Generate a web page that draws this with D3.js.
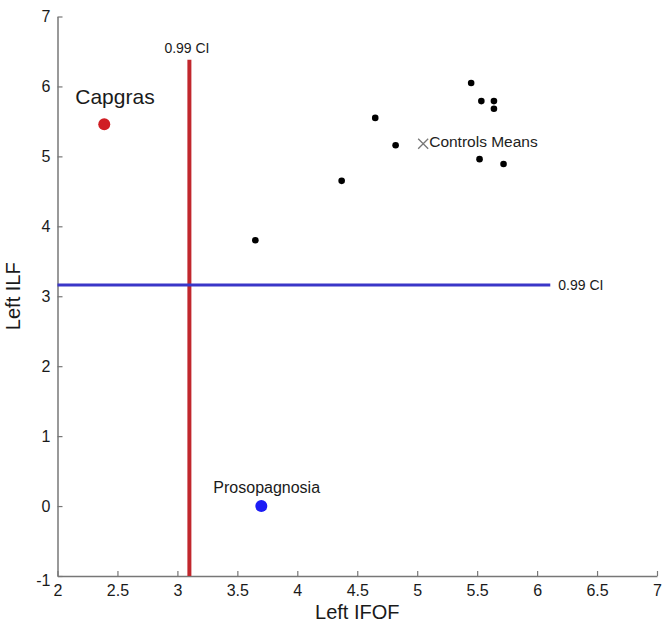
<!DOCTYPE html>
<html>
<head>
<meta charset="utf-8">
<script src="https://cdn.jsdelivr.net/npm/d3@7"></script>
<style>
  body { margin: 0; background: #fff; }
  svg text { font-family: "Liberation Sans", Arial, sans-serif; }
</style>
</head>
<body>
<div id="chart"></div>
<script>
// Data
const controlsX = [5.45, 5.535, 5.64, 5.64, 4.65, 4.82, 5.52, 5.72, 4.37, 3.65];
const controlsY = [6.05, 5.79, 5.79, 5.68, 5.55, 5.16, 4.96, 4.89, 4.65, 3.80];
const controlsMean = [5.05, 5.18];
const capgras = [2.39, 5.46];
const prosopagnosia = [3.70, 0.0];
const ciIFOF = 3.10;      // vertical 0.99 CI
const ciIFOFTop = 6.38;
const ciILF = 3.16;       // horizontal 0.99 CI
const ciILFRight = 6.11;
const xTicks = [2, 2.5, 3, 3.5, 4, 4.5, 5, 5.5, 6, 6.5, 7];
const yTicks = [-1, 0, 1, 2, 3, 4, 5, 6, 7];

// Set up chart dimensions
const W = 662, H = 624;
const margin = { top: 16.5, right: 5, bottom: 48, left: 57.5 };
const width = W - margin.left - margin.right;
const height = H - margin.top - margin.bottom;

const svg = d3.select('#chart')
  .append('svg')
  .attr('width', W)
  .attr('height', H)
  .append('g')
  .attr('transform', `translate(${margin.left},${margin.top})`);

// Create scales
const x = d3.scaleLinear().domain([2, 7]).range([0, width]);
const y = d3.scaleLinear().domain([-1, 7]).range([height, 0]);

// Axes (ticks pointing inward, plain hyphen for negatives)
const fmt = (d) => String(d);
const xAxis = d3.axisBottom(x).tickValues(xTicks).tickFormat(fmt).tickSizeInner(-5).tickSizeOuter(0).tickPadding(9);
const yAxis = d3.axisLeft(y).tickValues(yTicks).tickFormat(fmt).tickSizeInner(-5).tickSizeOuter(0).tickPadding(7);

const gx = svg.append('g').attr('transform', `translate(0,${height})`).call(xAxis);
const gy = svg.append('g').call(yAxis);
[gx, gy].forEach(g => {
  g.select('.domain').attr('stroke', '#777').attr('stroke-width', 1.5);
  g.selectAll('.tick line').attr('stroke', '#777').attr('stroke-width', 1.2);
  g.selectAll('.tick text').attr('fill', '#1a1a1a').style('font-size', '16px');
});
gy.selectAll('.tick text').filter(d => d === -1).attr('dy', '0.6em');

// Axis titles
svg.append('text')
  .attr('x', width / 2).attr('y', height + 43)
  .attr('text-anchor', 'middle')
  .style('font-size', '20px').attr('fill', '#1a1a1a')
  .text('Left IFOF');

svg.append('text')
  .attr('transform', `translate(${-38},${height / 2}) rotate(-90)`)
  .attr('text-anchor', 'middle')
  .style('font-size', '20px').attr('fill', '#1a1a1a')
  .text('Left ILF');

// CI lines
svg.append('line')
  .attr('x1', x(ciIFOF)).attr('x2', x(ciIFOF))
  .attr('y1', y(-1)).attr('y2', y(ciIFOFTop))
  .attr('stroke', '#c1272d').attr('stroke-width', 4);
svg.append('text')
  .attr('x', x(ciIFOF) - 25).attr('y', y(ciIFOFTop) - 7)
  .style('font-size', '14px').attr('fill', '#1a1a1a')
  .text('0.99 CI');

svg.append('line')
  .attr('x1', x(2)).attr('x2', x(ciILFRight))
  .attr('y1', y(ciILF)).attr('y2', y(ciILF))
  .attr('stroke', '#3a36c8').attr('stroke-width', 3);
svg.append('text')
  .attr('x', x(ciILFRight) + 8).attr('y', y(ciILF) + 5)
  .style('font-size', '14px').attr('fill', '#1a1a1a')
  .text('0.99 CI');

// Control participants
svg.selectAll('.ctrl')
  .data(d3.zip(controlsX, controlsY))
  .enter()
  .append('circle')
  .attr('class', 'ctrl')
  .attr('cx', d => x(d[0]))
  .attr('cy', d => y(d[1]))
  .attr('r', 3.3)
  .attr('fill', '#000');

// Controls mean marker
const mx = x(controlsMean[0]), my = y(controlsMean[1]);
svg.append('path')
  .attr('d', `M${mx - 5},${my - 5}L${mx + 5},${my + 5}M${mx - 5},${my + 5}L${mx + 5},${my - 5}`)
  .attr('stroke', '#777').attr('stroke-width', 1.3);
svg.append('text')
  .attr('x', mx + 6).attr('y', my + 3)
  .style('font-size', '15.5px').attr('fill', '#222')
  .text('Controls Means');

// Patients
svg.append('circle')
  .attr('cx', x(capgras[0])).attr('cy', y(capgras[1]))
  .attr('r', 6).attr('fill', '#d01e24');
svg.append('text')
  .attr('x', x(capgras[0]) - 29).attr('y', y(capgras[1]) - 20)
  .style('font-size', '21px').attr('fill', '#1a1a1a')
  .text('Capgras');

svg.append('circle')
  .attr('cx', x(prosopagnosia[0])).attr('cy', y(prosopagnosia[1]))
  .attr('r', 6).attr('fill', '#1c1cf5');
svg.append('text')
  .attr('x', x(prosopagnosia[0]) - 48).attr('y', y(prosopagnosia[1]) - 13)
  .style('font-size', '16px').attr('fill', '#1a1a1a')
  .text('Prosopagnosia');
</script>
</body>
</html>
